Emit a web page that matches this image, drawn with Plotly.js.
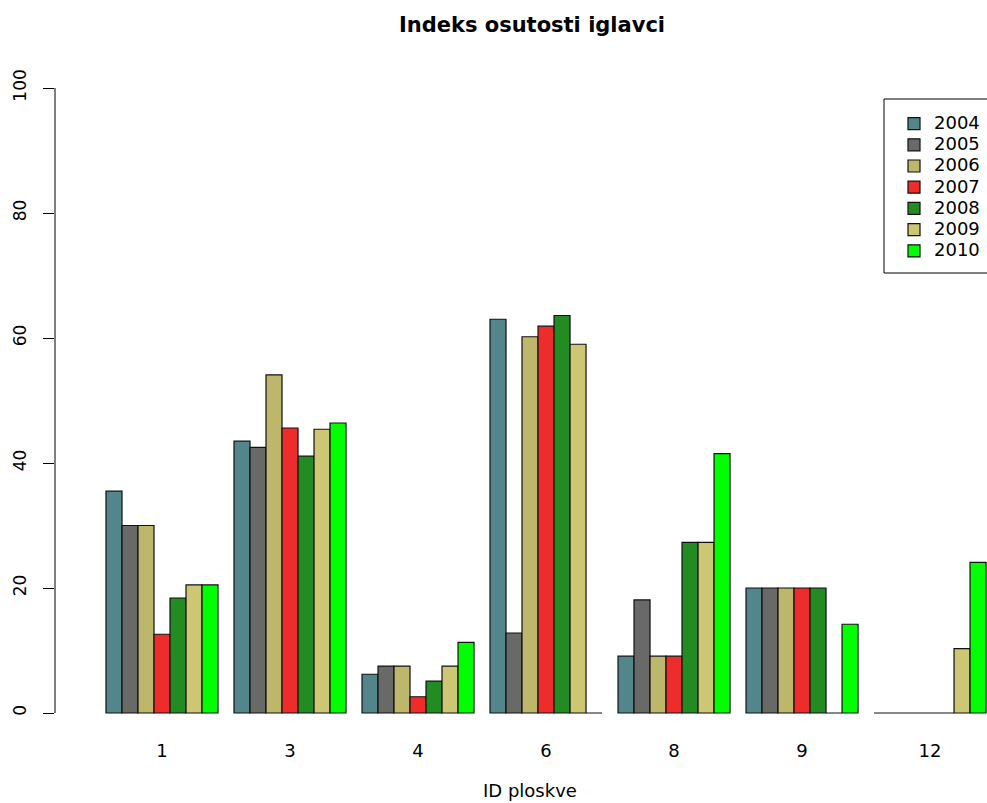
<!DOCTYPE html>
<html>
<head>
<meta charset="utf-8">
<script src="https://cdn.plot.ly/plotly-3.0.1.min.js"></script>
<style>html,body{margin:0;padding:0;background:#fff;}#chart{width:987px;height:803px;}</style>
</head>
<body>
<div id="chart"></div>
<script>
const plots = ['1', '3', '4', '6', '8', '9', '12'];
const years = ['2004', '2005', '2006', '2007', '2008', '2009', '2010'];
const v2004 = [35.5, 43.5, 6.2, 63.0, 9.1, 20.0, 0];
const v2005 = [30.0, 42.5, 7.5, 12.8, 18.1, 20.0, 0];
const v2006 = [30.0, 54.1, 7.5, 60.2, 9.1, 20.0, 0];
const v2007 = [12.6, 45.6, 2.6, 61.9, 9.1, 20.0, 0];
const v2008 = [18.4, 41.1, 5.1, 63.6, 27.3, 20.0, 0];
const v2009 = [20.5, 45.4, 7.5, 59.0, 27.3, 0, 10.3];
const v2010 = [20.5, 46.4, 11.3, 0, 41.5, 14.2, 24.1];
const series = [v2004, v2005, v2006, v2007, v2008, v2009, v2010];
const colors = ['#53868B', '#696969', '#BDB76B', '#EE2C2C', '#228B22', '#CDC673', '#00FF00'];
const yTicks = [0, 20, 40, 60, 80, 100];

const font = 'DejaVu Sans, Verdana, sans-serif';

const traces = series.map((vals, i) => ({
  type: 'bar',
  name: '<span style="font-size:18px">' + years[i] + '</span>',
  x: plots,
  y: vals,
  marker: {color: colors[i], line: {color: '#111', width: 1.2}},
  hoverinfo: 'x+y'
}));

const legLeft = 884, legTop = 99, legBottom = 273;

const layout = {
  width: 987,
  height: 803,
  paper_bgcolor: '#fff',
  plot_bgcolor: '#fff',
  margin: {l: 55, r: 0, t: 63, b: 65, autoexpand: false},
  barmode: 'group',
  bargap: 0.125,
  bargroupgap: 0,
  showlegend: true,
  font: {family: font, color: '#000', size: 16},
  title: {
    text: '<b>Indeks osutosti iglavci</b>',
    font: {family: font, size: 21, color: '#000'},
    x: 532 / 987, xref: 'container', xanchor: 'center',
    y: 1 - 25 / 803, yref: 'container', yanchor: 'middle'
  },
  xaxis: {
    type: 'category',
    range: [-0.836, 6.445],
    showline: false,
    showgrid: false,
    zeroline: false,
    ticks: '',
    tickfont: {family: font, size: 18, color: '#000'},
    ticklabelstandoff: 0
  },
  yaxis: {
    range: [-4, 104],
    showline: false,
    showgrid: false,
    zeroline: false,
    tickvals: yTicks,
    ticktext: yTicks.map(String),
    ticks: 'outside',
    ticklen: 11,
    tickwidth: 1,
    tickcolor: '#000',
    tickangle: -90,
    ticklabelstandoff: 10,
    tickfont: {family: font, size: 17, color: '#000'}
  },
  legend: {
    x: (legLeft + 10 - 55) / 932, xanchor: 'left',
    y: 1 - (legTop + 9 - 63) / 675, yanchor: 'top',
    bgcolor: 'rgba(255,255,255,0)',
    borderwidth: 0,
    font: {family: font, size: 14, color: '#000'},
    tracegroupgap: 0,
    traceorder: 'normal'
  },
  annotations: [
    {text: 'ID ploskve', xref: 'paper', yref: 'paper', showarrow: false,
     x: (530 - 55) / 932, y: -(791 - 738) / 675, xanchor: 'center', yanchor: 'middle',
     font: {family: font, size: 18, color: '#000'}}
  ],
  shapes: [
    {type: 'line', xref: 'paper', yref: 'y', x0: 0, x1: 0, y0: 0, y1: 100,
     line: {color: '#000', width: 1}},
    {type: 'rect', xref: 'paper', yref: 'paper', layer: 'below',
     x0: (legLeft - 55) / 932, x1: 1.1,
     y0: 1 - (legBottom - 63) / 675, y1: 1 - (legTop - 63) / 675,
     line: {color: '#000', width: 1}, fillcolor: 'rgba(0,0,0,0)'}
  ]
};

Plotly.newPlot('chart', traces, layout, {displayModeBar: false, staticPlot: true});
</script>
</body>
</html>
